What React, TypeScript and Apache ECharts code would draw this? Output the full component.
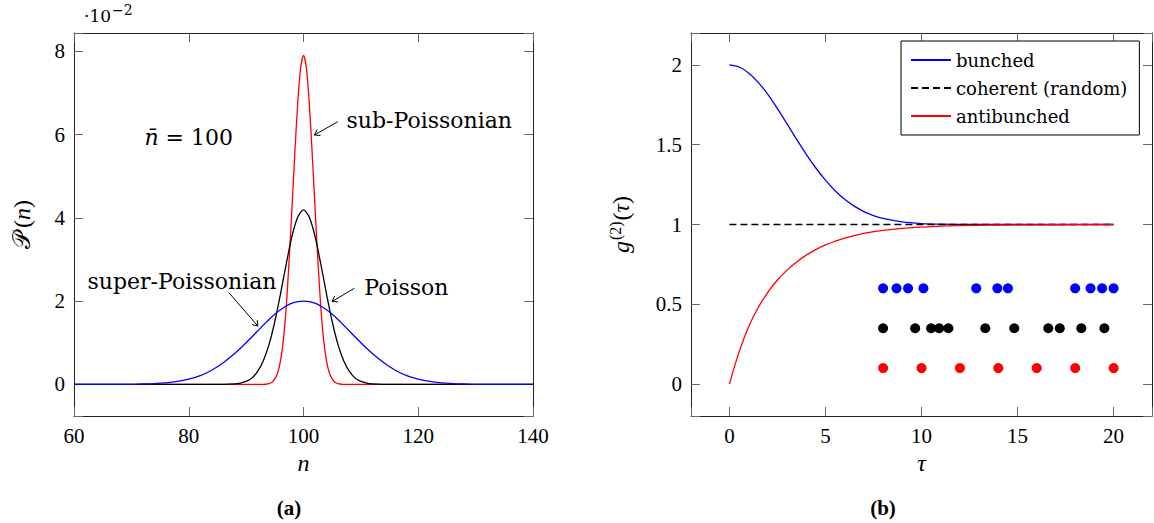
import React, { useEffect, useRef } from 'react';
import * as echarts from 'echarts';

// ---------- panel (a): photon-number distributions ----------
const subN = [60, 93, 94, 94.5, 95, 95.5, 96, 96.5, 97, 97.5, 98, 98.5, 99, 99.5, 100, 100.5, 101, 101.5, 102, 102.5, 103, 103.5, 104, 104.5, 105, 105.5, 106, 107, 140];
const subP = [0, 0, 0.02, 0.05, 0.13, 0.28, 0.57, 1.08, 1.88, 3.0, 4.26, 5.58, 6.77, 7.6, 7.9, 7.6, 6.77, 5.58, 4.26, 3.0, 1.88, 1.08, 0.57, 0.28, 0.13, 0.05, 0.02, 0, 0];

const poisN = [60, 86, 88, 89, 90, 91, 92, 93, 94, 95, 96, 97, 98, 99, 100, 101, 102, 103, 104, 105, 106, 107, 108, 109, 110, 111, 112, 114, 140];
const poisP = [0, 0, 0.01, 0.03, 0.07, 0.15, 0.31, 0.57, 0.96, 1.51, 2.18, 2.9, 3.56, 4.02, 4.19, 4.02, 3.56, 2.9, 2.18, 1.51, 0.96, 0.57, 0.31, 0.15, 0.07, 0.03, 0.01, 0, 0];

const superN = [60, 70, 72, 74, 76, 78, 80, 82, 84, 86, 88, 90, 92, 94, 96, 98, 100, 102, 104, 106, 108, 110, 112, 114, 116, 118, 120, 122, 124, 126, 128, 130, 140];
const superP = [0, 0, 0.009, 0.019, 0.037, 0.07, 0.126, 0.21, 0.34, 0.52, 0.74, 1.0, 1.28, 1.56, 1.79, 1.95, 2.0, 1.95, 1.79, 1.56, 1.28, 1.0, 0.74, 0.52, 0.34, 0.21, 0.126, 0.07, 0.037, 0.019, 0.009, 0, 0];

// annotations of panel (a), in data coordinates
const noteTexts = ['sub-Poissonian', 'Poisson', 'super-Poissonian'];
const notePos = [[107.5, 6.33], [110.6, 2.33], [95.3, 2.47]];
const noteAlign = ['left', 'left', 'right'];
const arrowFrom = [[105.97, 6.31], [108.87, 2.31], [87.01, 2.2]];
const arrowTo = [[101.91, 5.99], [104.99, 1.99], [92.05, 1.4]];
const nbarPos = [80, 5.92];

// ---------- panel (b): second-order correlation ----------
const tauB = [0, 0.5, 1, 1.5, 2, 2.5, 3, 3.5, 4, 4.5, 5, 5.5, 6, 6.5, 7, 7.5, 8, 9, 10, 11, 12, 14, 20];
const bunched = [2, 1.987, 1.95, 1.891, 1.815, 1.726, 1.63, 1.534, 1.44, 1.354, 1.278, 1.212, 1.158, 1.115, 1.081, 1.056, 1.038, 1.016, 1.006, 1.002, 1.001, 1, 1];

const tauC = [0, 20];
const coherent = [1, 1];

const tauA = [0, 0.5, 1, 1.5, 2, 2.5, 3, 3.5, 4, 4.5, 5, 5.5, 6, 7, 8, 9, 10, 11, 12, 13, 14, 16, 18, 20];
const antibunched = [0, 0.2, 0.36, 0.48, 0.575, 0.652, 0.714, 0.765, 0.808, 0.843, 0.872, 0.895, 0.915, 0.944, 0.963, 0.976, 0.984, 0.99, 0.993, 0.995, 0.997, 0.998, 0.999, 1];

const blueDotsX = [8, 8.7, 9.3, 10.1, 12.85, 13.95, 14.5, 18, 18.8, 19.4, 20];
const blueDotsY = 0.6;
const blackDotsX = [8, 9.67, 10.5, 10.92, 11.4, 13.32, 14.83, 16.6, 17.2, 18.32, 19.52];
const blackDotsY = 0.35;
const redDotsX = [8, 10, 12, 14, 16, 18, 20];
const redDotsY = 0.1;

const legendNames = ['bunched', 'coherent (random)', 'antibunched'];

const BLUE = '#0000ff';
const RED = '#ff0000';
const BLACK = '#000000';
const SERIF = '"DejaVu Serif", serif';
const NUM = '"Liberation Serif", serif';

const zip = (xs: number[], ys: number[]) => xs.map((x, i) => [x, ys[i]]);
const dots = (xs: number[], y: number) => xs.map((x) => [x, y]);

function axisBase(extra: any) {
  return {
    type: 'value',
    splitNumber: 5,
    splitLine: { show: false },
    axisLine: { show: true, onZero: false, lineStyle: { color: '#222', width: 1 } },
    axisTick: { show: true, inside: true, length: 9, lineStyle: { color: '#666', width: 1 } },
    ...extra,
  };
}

const labelStyle = { fontFamily: NUM, fontSize: 21, color: '#000' };

export default function App() {
  const ref = useRef<HTMLDivElement>(null);

  useEffect(() => {
    const chart = echarts.init(ref.current!, null, { renderer: 'svg' });

    const evenFmt = (v: number) => (Math.abs(v / 2 - Math.round(v / 2)) < 1e-9 ? String(v) : '');
    const halfFmt = (v: number) => (Math.abs(v * 2 - Math.round(v * 2)) < 1e-9 ? String(Math.abs(v) < 1e-9 ? 0 : v) : '');
    const fiveFmt = (v: number) => (Math.abs(v / 5 - Math.round(v / 5)) < 1e-9 ? String(v) : '');
    const twentyFmt = (v: number) => (Math.abs(v / 20 - Math.round(v / 20)) < 1e-9 ? String(v) : '');

    const option: any = {
      animation: false,
      backgroundColor: '#fff',
      textStyle: { fontFamily: NUM },
      grid: [
        { left: 74, top: 33, width: 459, height: 383, outerBoundsMode: 'none', containLabel: false },
        { left: 691, top: 33, width: 461, height: 383, outerBoundsMode: 'none', containLabel: false },
      ],
      xAxis: [
        axisBase({
          gridIndex: 0, position: 'bottom', min: 60, max: 140,
          axisLabel: { ...labelStyle, margin: 9, formatter: twentyFmt },
          name: 'n', nameLocation: 'middle', nameGap: 35,
          nameTextStyle: { fontFamily: NUM, fontStyle: 'italic', fontSize: 24, color: '#000' },
        }),
        axisBase({ gridIndex: 0, position: 'top', min: 60, max: 140, axisLabel: { show: false } }),
        axisBase({
          gridIndex: 1, position: 'bottom', min: -2, max: 22,
          axisLabel: { ...labelStyle, margin: 9, formatter: fiveFmt },
          name: 'τ', nameLocation: 'middle', nameGap: 35,
          nameTextStyle: { fontFamily: NUM, fontStyle: 'italic', fontSize: 24, color: '#000' },
        }),
        axisBase({ gridIndex: 1, position: 'top', min: -2, max: 22, axisLabel: { show: false } }),
      ],
      yAxis: [
        axisBase({
          gridIndex: 0, position: 'left', min: -0.76, max: 8.44,
          axisLabel: { ...labelStyle, margin: 9, formatter: evenFmt },
          name: '{s|𝒫}{r|(}{i|n}{r|)}', nameLocation: 'middle', nameGap: 40,
          nameTextStyle: {
            color: '#000',
            rich: {
              s: { fontFamily: SERIF, fontSize: 24, color: '#000', padding: [0, 4, 0, 0] },
              r: { fontFamily: NUM, fontSize: 24, color: '#000' },
              i: { fontFamily: NUM, fontStyle: 'italic', fontSize: 24, color: '#000' },
            },
          },
        }),
        axisBase({ gridIndex: 0, position: 'right', min: -0.76, max: 8.44, axisLabel: { show: false } }),
        axisBase({
          gridIndex: 1, position: 'left', min: -0.2, max: 2.2,
          axisLabel: { ...labelStyle, margin: 9, formatter: halfFmt },
          name: '{i|g}{sup|(2)}{r|(}{i|τ}{r|)}', nameLocation: 'middle', nameGap: 58,
          nameTextStyle: {
            color: '#000',
            rich: {
              i: { fontFamily: NUM, fontStyle: 'italic', fontSize: 24, color: '#000', verticalAlign: 'bottom' },
              r: { fontFamily: NUM, fontSize: 24, color: '#000', verticalAlign: 'bottom' },
              sup: { fontFamily: NUM, fontSize: 16, color: '#000', verticalAlign: 'bottom', padding: [0, 1, 10, 1] },
            },
          },
        }),
        axisBase({ gridIndex: 1, position: 'right', min: -0.2, max: 2.2, axisLabel: { show: false } }),
      ],
      legend: {
        data: legendNames,
        orient: 'vertical',
        left: 901,
        top: 41,
        itemWidth: 40,
        itemHeight: 14,
        itemGap: 6,
        padding: [8, 12, 8, 9],
        borderColor: '#000',
        borderWidth: 1,
        borderRadius: 0,
        backgroundColor: '#fff',
        selectedMode: false,
        itemStyle: { color: 'transparent', borderColor: 'transparent', borderWidth: 0, opacity: 0 },
        textStyle: { fontFamily: SERIF, fontSize: 18, color: '#000', lineHeight: 22 },
      },
      title: [
        { text: '(a)', left: 284, top: 492, textAlign: 'center', textStyle: { fontFamily: NUM, fontWeight: 'bold', fontSize: 21, color: '#000' } },
        { text: '(b)', left: 878, top: 492, textAlign: 'center', textStyle: { fontFamily: NUM, fontWeight: 'bold', fontSize: 21, color: '#000' } },
      ],
      series: [
        { name: 'sub-Poissonian', type: 'line', xAxisIndex: 0, yAxisIndex: 0, data: zip(subN, subP), showSymbol: false, symbol: 'none', smooth: 0.3, lineStyle: { color: RED, width: 1.3 }, itemStyle: { color: RED } },
        { name: 'Poisson', type: 'line', xAxisIndex: 0, yAxisIndex: 0, data: zip(poisN, poisP), showSymbol: false, symbol: 'none', smooth: 0.3, lineStyle: { color: BLACK, width: 1.3 }, itemStyle: { color: BLACK } },
        { name: 'super-Poissonian', type: 'line', xAxisIndex: 0, yAxisIndex: 0, data: zip(superN, superP), showSymbol: false, symbol: 'none', smooth: 0.3, lineStyle: { color: BLUE, width: 1.3 }, itemStyle: { color: BLUE } },
        { name: legendNames[0], type: 'line', xAxisIndex: 2, yAxisIndex: 2, data: zip(tauB, bunched), showSymbol: false, symbol: 'none', smooth: 0.3, lineStyle: { color: BLUE, width: 1.3 }, itemStyle: { color: BLUE } },
        { name: legendNames[1], type: 'line', xAxisIndex: 2, yAxisIndex: 2, data: zip(tauC, coherent), showSymbol: false, symbol: 'none', lineStyle: { color: BLACK, width: 1.6, type: [7, 4] }, itemStyle: { color: BLACK } },
        { name: legendNames[2], type: 'line', xAxisIndex: 2, yAxisIndex: 2, data: zip(tauA, antibunched), showSymbol: false, symbol: 'none', smooth: 0.3, lineStyle: { color: RED, width: 1.3 }, itemStyle: { color: RED } },
        { name: 'bunched photons', type: 'scatter', xAxisIndex: 2, yAxisIndex: 2, data: dots(blueDotsX, blueDotsY), symbol: 'circle', symbolSize: 10, itemStyle: { color: BLUE, opacity: 1 } },
        { name: 'random photons', type: 'scatter', xAxisIndex: 2, yAxisIndex: 2, data: dots(blackDotsX, blackDotsY), symbol: 'circle', symbolSize: 10, itemStyle: { color: BLACK, opacity: 1 } },
        { name: 'antibunched photons', type: 'scatter', xAxisIndex: 2, yAxisIndex: 2, data: dots(redDotsX, redDotsY), symbol: 'circle', symbolSize: 10, itemStyle: { color: RED, opacity: 1 } },
      ],
    };

    chart.setOption(option);

    const toPx = (p: number[]) => chart.convertToPixel({ xAxisIndex: 0, yAxisIndex: 0 }, p) as number[];
    const graphics: any[] = [];

    noteTexts.forEach((t, i) => {
      const [x, y] = toPx(notePos[i]);
      graphics.push({
        type: 'text', x, y, silent: true,
        style: { text: t, fontFamily: SERIF, fontSize: 22, fill: '#000', align: noteAlign[i], verticalAlign: 'middle' },
      });
    });

    arrowFrom.forEach((from, i) => {
      const a = toPx(from);
      const b = toPx(arrowTo[i]);
      graphics.push({ type: 'line', silent: true, shape: { x1: a[0], y1: a[1], x2: b[0], y2: b[1] }, style: { stroke: '#000', lineWidth: 1 } });
      const dx = a[0] - b[0];
      const dy = a[1] - b[1];
      const len = Math.hypot(dx, dy);
      const ux = dx / len;
      const uy = dy / len;
      const head = 6;
      const ang = 0.6;
      const p1 = [b[0] + head * (ux * Math.cos(ang) - uy * Math.sin(ang)), b[1] + head * (ux * Math.sin(ang) + uy * Math.cos(ang))];
      const p2 = [b[0] + head * (ux * Math.cos(-ang) - uy * Math.sin(-ang)), b[1] + head * (ux * Math.sin(-ang) + uy * Math.cos(-ang))];
      graphics.push({ type: 'polyline', silent: true, shape: { points: [p1, b, p2] }, style: { stroke: '#000', fill: null, lineWidth: 1 } });
    });

    const nb = toPx(nbarPos);
    graphics.push({
      type: 'text', x: nb[0], y: nb[1], silent: true,
      style: {
        text: '{i|n\u0304}{r| = 100}', align: 'center', verticalAlign: 'middle',
        rich: {
          i: { fontFamily: SERIF, fontStyle: 'italic', fontSize: 22, fill: '#000' },
          r: { fontFamily: SERIF, fontSize: 22, fill: '#000' },
        },
      },
    });

    graphics.push({
      type: 'text', x: 84, y: 24, silent: true,
      style: {
        text: '{r|·10}{s|−2}', align: 'left', verticalAlign: 'bottom',
        rich: {
          r: { fontFamily: SERIF, fontSize: 17, fill: '#000', verticalAlign: 'bottom' },
          s: { fontFamily: SERIF, fontSize: 14, fill: '#000', verticalAlign: 'bottom', padding: [0, 0, 7, 1] },
        },
      },
    });

    chart.setOption({ graphic: graphics });

    return () => chart.dispose();
  }, []);

  return (
    <div
      ref={ref}
      style={{ position: 'fixed', left: 0, top: 0, width: 1154, height: 523, background: '#fff' }}
    />
  );
}
